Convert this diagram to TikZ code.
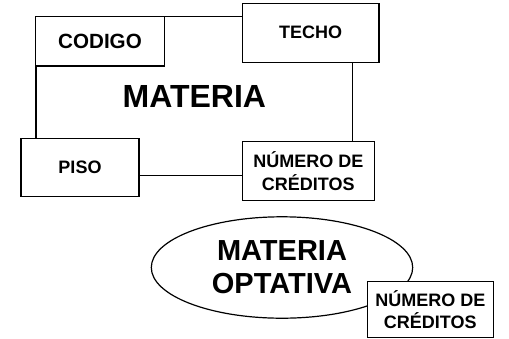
\documentclass[tikz,border=0pt]{standalone}
\usepackage{fontspec}
\setmainfont{Liberation Sans}
\usetikzlibrary{shapes.geometric}
\tikzset{
	campo/.style={draw, fill=white, line width=1.2pt, inner sep=0pt, align=center,
		font=\fontsize{18}{22.3}\selectfont\bfseries},
	entidad/.style={draw, line width=1.2pt, inner sep=0pt, align=center},
}

\begin{document}
\begin{tikzpicture}[x=1pt,y=-1pt]
		\useasboundingbox (0,0) rectangle (509,338);
		% entidad MATERIA
		\node[entidad, minimum width=316.7pt, minimum height=159pt,
			font=\fontsize{32}{36}\selectfont\bfseries] (materia) at (194.4,96.2) {MATERIA};
		\node[campo, minimum width=128.6pt, minimum height=49.3pt,
			font=\fontsize{20.6}{24}\selectfont\bfseries] (codigo) at (100,41.3) {CODIGO};
		\node[campo, minimum width=136.7pt, minimum height=59pt] (techo) at (310.7,32.8) {TECHO};
		\node[campo, minimum width=118pt, minimum height=58.4pt] (piso) at (80,167.5) {PISO};
		\node[campo, minimum width=132pt, minimum height=59pt] (creditos) at (308.3,171.2) {NÚMERO DE\\CRÉDITOS};
		%
		% MATERIA OPTATIVA
		\node[entidad, ellipse, minimum width=261.4pt, minimum height=101.4pt,
			font=\fontsize{29}{32.7}\selectfont\bfseries] (optativa) at (282,267.5) {MATERIA\\OPTATIVA};
		\node[campo, minimum width=126pt, minimum height=56pt] (creditosopt) at (430.3,309.3) {NÚMERO DE\\CRÉDITOS};
	\end{tikzpicture}
\end{document}
